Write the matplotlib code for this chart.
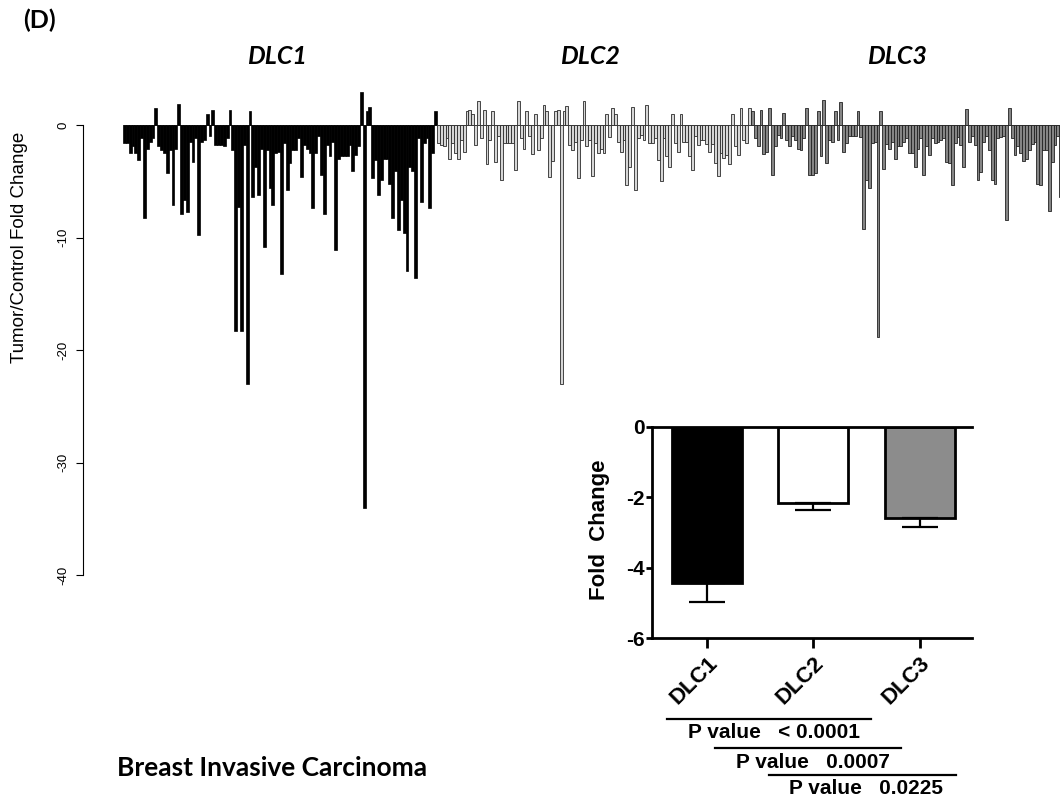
import numpy as np
import matplotlib
matplotlib.use("Agg")
import matplotlib.pyplot as plt
from matplotlib.lines import Line2D

plt.rcParams['axes.unicode_minus'] = False
plt.rcParams['font.family'] = ['Liberation Sans', 'DejaVu Sans']

# per-sample tumor/control fold change
dlc1_fc = [-1.6, -1.6, -2.5, -1.9, -2.5, -3.1, -1.2, -8.3, -2.1, -1.5, -1.2,
           1.5, -1.9, -2.2, -2.5, -4.3, -2.2, -7.1, -2.1, 1.9, -7.9,
           -6.7, -7.7, -1.5, -3.3, -1.2, -9.8, -1.5, -1.3, 1.0, -1.0,
           1.3, -1.8, -1.8, -1.8, -1.9, -1.2, 1.3, -2.2, -18.3, -7.3, -18.3,
           -1.8, -23.0, 1.2, -6.4, -3.7, -6.2, -2.1, -10.8, -2.2, -5.6,
           -7.1, -2.5, -2.4, -13.2, -1.6, -5.8, -3.4, -2.2, -2.2, -1.2, -4.6,
           -1.8, -2.1, -2.5, -7.4, -2.5, -1.0, -4.4, -7.9, -1.8, -2.8,
           -1.5, -11.1, -3.0, -2.8, -2.8, -2.8, -1.8, -4.1, -2.7, -1.9, 2.9,
           -34.0, 1.2, 1.6, -4.7, -3.1, -6.2, -4.9, -3.0, -3.0, -5.2, -8.3,
           -4.1, -9.3, -6.7, -9.6, -13.0, -3.7, -4.1, -13.6, -1.2, -6.8,
           -1.6, -1.2, -7.4, -2.5, 1.2]

dlc2_fc = [-1.6, -1.8, -1.9, -1.2, -3.0, -1.6, -2.5, -3.0, -1.3, -2.4,
           1.2, 1.3, 1.0, -1.8, 2.1, -1.2, 1.3, -3.5, -1.3, 1.2,
           -3.3, -1.0, -4.9, -1.6, -1.6, -1.6, -1.6, -4.0, 2.1, -1.2,
           -2.1, 1.2, -1.0, -2.6, 1.0, -2.2, -1.2, 1.8, 1.2, -4.6,
           -3.2, 1.2, 1.3, -23.0, 1.2, 1.7, -1.8, -2.2, -1.5, -4.7,
           -1.3, 2.1, -1.9, -1.3, -4.5, -1.6, -2.5, -2.1, -2.5, 1.0,
           -1.1, 1.5, 1.0, -1.5, -2.4, -1.3, -5.3, -3.7, 1.6, -5.8,
           -1.2, -0.9, -1.3, 1.8, -1.6, -1.6, -1.2, -3.1, -5.0, -1.2,
           -2.8, -3.7, 1.0, -1.6, -2.4, 1.0, -1.5, -1.5, -2.8, -4.0,
           -1.0, -1.8, -1.3, -1.3, -1.7, -2.4, -1.7, -3.4, -4.5, -2.5,
           -2.9, -2.7, -3.5, 1.0, -1.9, -2.7, 1.5, -1.3, -1.6, 1.5]

dlc3_fc = [1.2, -1.2, -1.9, 1.3, -2.6, -2.4, 1.5, -4.4, -1.9, -0.9,
           -1.2, 1.1, -1.3, -1.9, -1.0, -1.3, -2.1, -2.2, -1.2, 1.5,
           -4.4, -4.4, -4.3, 1.2, -2.8, 2.2, -3.4, -1.3, -1.5, 1.2,
           -1.3, 2.0, -2.4, -1.6, -1.0, -1.0, -1.0, 1.2, -1.1, -9.2,
           -4.9, -5.6, -1.6, -1.5, -18.8, 1.2, -3.9, -1.7, -2.1, -1.5,
           -3.0, -1.9, -1.9, -1.5, -1.2, -2.5, -2.5, -3.7, -2.1, -1.2,
           -4.4, -1.9, -2.7, -1.2, -1.6, -1.5, -1.3, -1.2, -3.3, -3.4,
           -5.3, -1.6, -1.1, -1.8, -3.7, 1.4, -1.5, -1.0, -1.8, -4.9,
           -4.2, -1.5, -1.0, -2.2, -4.9, -5.2, -1.2, -1.1, -1.0, -8.4,
           1.5, -1.2, -2.7, -1.9, -2.5, -3.2, -3.0, -2.2, -1.7, -1.5,
           -5.2, -5.3, -2.2, -2.2, -7.6, -3.3, -1.8, -1.0, -6.4, 2.0,
           -3.9, -2.2]

# summary (inset)
genes = ['DLC1', 'DLC2', 'DLC3']
mean_fc = [-4.42, -2.15, -2.60]
sem_fc = [0.54, 0.21, 0.23]
pvals = ['< 0.0001', '0.0007', '0.0225']

W, H = 1060, 801
fig = plt.figure(figsize=(W / 100, H / 100), dpi=100)


def fx(x):
    return x / W


def fy(y):
    return 1 - y / H


# ---- waterfall of all samples
ax = fig.add_axes([fx(83), fy(592), fx(1060 - 83), (592 - 85.6) / H])
n1, n2, n3 = len(dlc1_fc), len(dlc2_fc), len(dlc3_fc)
x1 = np.arange(n1)
x2 = np.arange(n1, n1 + n2)
x3 = np.arange(n1 + n2, n1 + n2 + n3)
ntot = n1 + n2 + n3
ax.hlines(0, -0.5, ntot - 0.5, color='#555555', lw=0.7, zorder=0.5)
ax.bar(x1, dlc1_fc, width=1.0, color='black', edgecolor='black', linewidth=0.5)
ax.bar(x2, dlc2_fc, width=1.0, color='#d6d6d6', edgecolor='#2a2a2a', linewidth=0.6)
ax.bar(x3, dlc3_fc, width=1.0, color='#858585', edgecolor='#222222', linewidth=0.6)

pitch = (437 - 123) / n1
ax.set_xlim(-0.5 - 40 / pitch, -0.5 + (1060 - 123) / pitch)
ax.set_ylim(-41.5, 3.5)
for s in ['top', 'right', 'bottom']:
    ax.spines[s].set_visible(False)
ax.spines['left'].set_bounds(-40, 0)
ax.spines['left'].set_linewidth(0.8)
ax.set_xticks([])
ax.set_yticks([0, -10, -20, -30, -40])
ax.set_yticklabels(['0', '-10', '-20', '-30', '-40'])
ax.tick_params(axis='y', labelrotation=90, length=5, width=0.8, labelsize=9.5, pad=5)
for lbl in ax.get_yticklabels():
    lbl.set_va('center')
fig.text(fx(20), fy(247), 'Tumor/Control Fold Change', rotation=90,
         ha='center', va='center', fontsize=13.5)

title_font = ['Lato', 'Liberation Sans', 'DejaVu Sans']
for name, xc in zip(genes, [277, 590, 897]):
    fig.text(fx(xc), fy(56), name, ha='center', va='center', fontsize=18,
             fontweight='bold', fontstyle='italic', family=title_font)
fig.text(fx(39), fy(20), '(D)', ha='center', va='center', fontsize=18,
         fontweight='bold', family=title_font)
fig.text(fx(117), fy(768), 'Breast Invasive Carcinoma', ha='left', va='center',
         fontsize=19, fontweight='bold', family=title_font)

# ---- inset with mean fold change
axin = fig.add_axes([fx(651.7), fy(638.3), fx(971.7 - 651.7), (638.3 - 426.7) / H])
xpos = np.arange(3)
axin.bar(xpos, mean_fc, width=0.66, color=['black', 'white', '#8c8c8c'],
         edgecolor='black', linewidth=2)
axin.errorbar(xpos, mean_fc, yerr=[sem_fc, [0, 0, 0]], fmt='none', ecolor='black',
              elinewidth=1.6, capsize=13, capthick=1.6)
axin.set_xlim(-0.52, 2.49)
axin.set_ylim(-6, 0)
axin.spines['right'].set_visible(False)
for s in ['top', 'left', 'bottom']:
    axin.spines[s].set_linewidth(2)
axin.set_yticks([0, -2, -4, -6])
axin.set_yticklabels(['0', '-2', '-4', '-6'], fontweight='bold', fontsize=15)
axin.set_xticks(xpos)
axin.set_xticklabels(genes, rotation=45, ha='right', rotation_mode='anchor',
                     fontweight='bold', fontsize=16)
axin.tick_params(axis='y', length=4, width=2, pad=1)
axin.tick_params(axis='x', length=7, width=2, pad=3)
fig.text(fx(600), fy(530), 'Fold  Change', rotation=90, ha='center', va='center',
         fontsize=16, fontweight='bold')

# significance lines under the inset
sig_lines = [(667, 871, 719), (715, 901, 748), (769, 956, 775)]
sig_text = [(774, 733), (813, 762), (866, 788)]
for (xa, xb, yl), (xt, yt), p in zip(sig_lines, sig_text, pvals):
    fig.add_artist(Line2D([fx(xa), fx(xb)], [fy(yl), fy(yl)], color='black',
                          lw=1.6, transform=fig.transFigure))
    fig.text(fx(xt), fy(yt), 'P value   ' + p, ha='center', va='center',
             fontsize=15, fontweight='bold')

fig.savefig('out.png', dpi=100)
